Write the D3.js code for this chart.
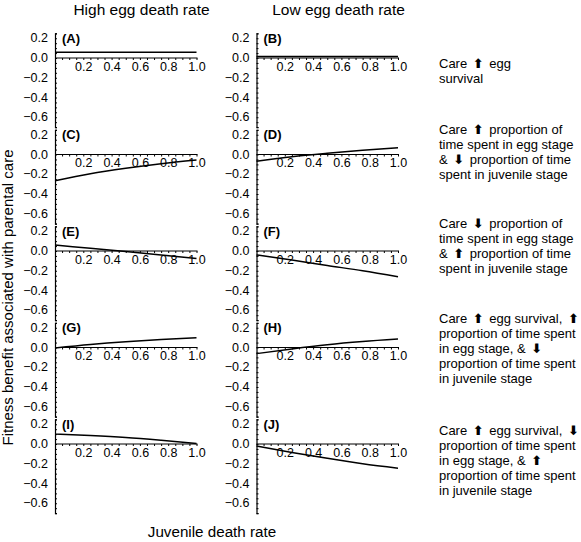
<!DOCTYPE html>
<html><head><meta charset="utf-8">
<script src="https://cdn.jsdelivr.net/npm/d3@7"></script>
<style>
body{margin:0;background:#fff;}
svg{display:block;font-family:"Liberation Sans",Arial,Helvetica,sans-serif;}
</style></head>
<body><svg id="c" width="581" height="542"></svg>
<script>
// ---- data ----
const columns = ["High egg death rate", "Low egg death rate"];
const panelLabels = ["(A)","(B)","(C)","(D)","(E)","(F)","(G)","(H)","(I)","(J)"];
const xSamples = [0, 0.25, 0.5, 0.75, 1.0];
const seriesA = [0.058, 0.058, 0.058, 0.058, 0.058];
const seriesB = [0.015, 0.015, 0.015, 0.015, 0.015];
const seriesC = [-0.265, -0.195, -0.14, -0.093, -0.055];
const seriesD = [-0.068, -0.022, 0.013, 0.043, 0.068];
const seriesE = [0.06, 0.027, -0.006, -0.04, -0.075];
const seriesF = [-0.04, -0.092, -0.147, -0.2, -0.26];
const seriesG = [-0.005, 0.03, 0.058, 0.08, 0.098];
const seriesH = [-0.062, -0.014, 0.028, 0.06, 0.085];
const seriesI = [0.10, 0.085, 0.065, 0.037, 0.005];
const seriesJ = [-0.02, -0.085, -0.145, -0.2, -0.245];
const allSeries = [seriesA, seriesB, seriesC, seriesD, seriesE, seriesF, seriesG, seriesH, seriesI, seriesJ];
const xTickLabels = [0.2, 0.4, 0.6, 0.8, 1.0];
const yTickLabels = [0.2, 0.0, -0.2, -0.4, -0.6];
const yLabel = "Fitness benefit associated with parental care";
const xLabel = "Juvenile death rate";
// row descriptions; {U} = up arrow, {D} = down arrow
const rowNotes = [
  ["Care {U} egg", "survival"],
  ["Care {U} proportion of", "time spent in egg stage", "& {D} proportion of time", "spent in juvenile stage"],
  ["Care {D} proportion of", "time spent in egg stage", "& {U} proportion of time", "spent in juvenile stage"],
  ["Care {U} egg survival, {U}", "proportion of time spent", "in egg stage, & {D}", "proportion of time spent", "in juvenile stage"],
  ["Care {U} egg survival, {D}", "proportion of time spent", "in egg stage, & {U}", "proportion of time spent", "in juvenile stage"]
];

// ---- layout ----
const svg = d3.select("#c");
const colX = [55, 256.5];
const rowZero = [58, 154.5, 251, 347.5, 444];
const pw = 141.5;
const unit = 98.75;
const yTop = 0.25, yBot = -0.7;
const noteY = [68, 134, 228, 323, 435];

// titles
columns.forEach((t, i) => {
  svg.append("text").attr("x", [141.5, 338.5][i]).attr("y", 15)
    .attr("text-anchor", "middle").attr("font-size", 15.5).text(t);
});

allSeries.forEach((vals, k) => {
  const r = Math.floor(k / 2), c = k % 2;
  const x0 = colX[c], z = rowZero[r];
  const x = d3.scaleLinear().domain([0, 1]).range([x0, x0 + pw]);
  const y = d3.scaleLinear().domain([yBot, yTop]).range([z - yBot * unit, z - yTop * unit]);
  const g = svg.append("g");
  // y axis
  const yAxis = d3.axisRight(y).tickValues(d3.range(-0.7, 0.2501, 0.05)).tickSize(2).tickFormat("");
  g.append("g").attr("transform", `translate(${x0},0)`).call(yAxis)
    .call(s => { s.select(".domain").attr("stroke-width", 1.2); s.selectAll(".tick line").attr("stroke-width", 1); });
  // y tick labels
  g.selectAll(".yl").data(yTickLabels).join("text")
    .attr("x", x0 - 7).attr("y", d => y(d) + 4).attr("text-anchor", "end")
    .attr("font-size", 12.5).text(d => d3.format(".1f")(d).replace("-", "\u2212"));
  // x axis
  const xAxis = d3.axisBottom(x).tickValues(d3.range(0.05, 1.0001, 0.05)).tickSize(2).tickFormat("");
  g.append("g").attr("transform", `translate(0,${y(0)})`).call(xAxis)
    .call(s => { s.select(".domain").attr("d", `M${x0},0H${x0 + pw + 1}`).attr("stroke-width", 1.2); });
  g.selectAll(".xl").data(xTickLabels).join("text")
    .attr("x", d => x(d) + 0.5).attr("y", y(0) + 12.5).attr("text-anchor", "middle")
    .attr("font-size", 12.5).text(d => d3.format(".1f")(d));
  // panel label
  g.append("text").attr("x", x0 + 7).attr("y", z - 15.5).attr("font-size", 13)
    .attr("font-weight", "bold").text(panelLabels[k]);
  // curve
  const line = d3.line().x((d, i) => x(xSamples[i])).y(d => y(d)).curve(d3.curveMonotoneX);
  g.append("path").attr("d", line(vals)).attr("fill", "none").attr("stroke", "#000").attr("stroke-width", 1.5);
});

// notes on the right
rowNotes.forEach((lines, r) => {
  lines.forEach((ln, j) => {
    const t = svg.append("text").attr("x", 439).attr("y", noteY[r] + j * 15).attr("font-size", 13);
    let afterArrow = false;
    ln.split(/(\{U\}|\{D\})/).forEach(part => {
      if (part === "{U}" || part === "{D}") {
        t.append("tspan").attr("dx", 2).attr("font-family", "DejaVu Sans").attr("font-size", 13).attr("font-weight", "bold")
          .text(part === "{U}" ? "\u2B06" : "\u2B07");
        afterArrow = true;
      } else if (part.length) {
        const s = t.append("tspan").text(part);
        if (afterArrow) s.attr("dx", 2);
        afterArrow = false;
      }
    });
  });
});

// axis labels
svg.append("text").attr("transform", "translate(13,297.5) rotate(-90)").attr("text-anchor", "middle")
  .attr("font-size", 15).text(yLabel);
svg.append("text").attr("x", 212).attr("y", 537).attr("text-anchor", "middle")
  .attr("font-size", 15.2).text(xLabel);
</script>
</body></html>
